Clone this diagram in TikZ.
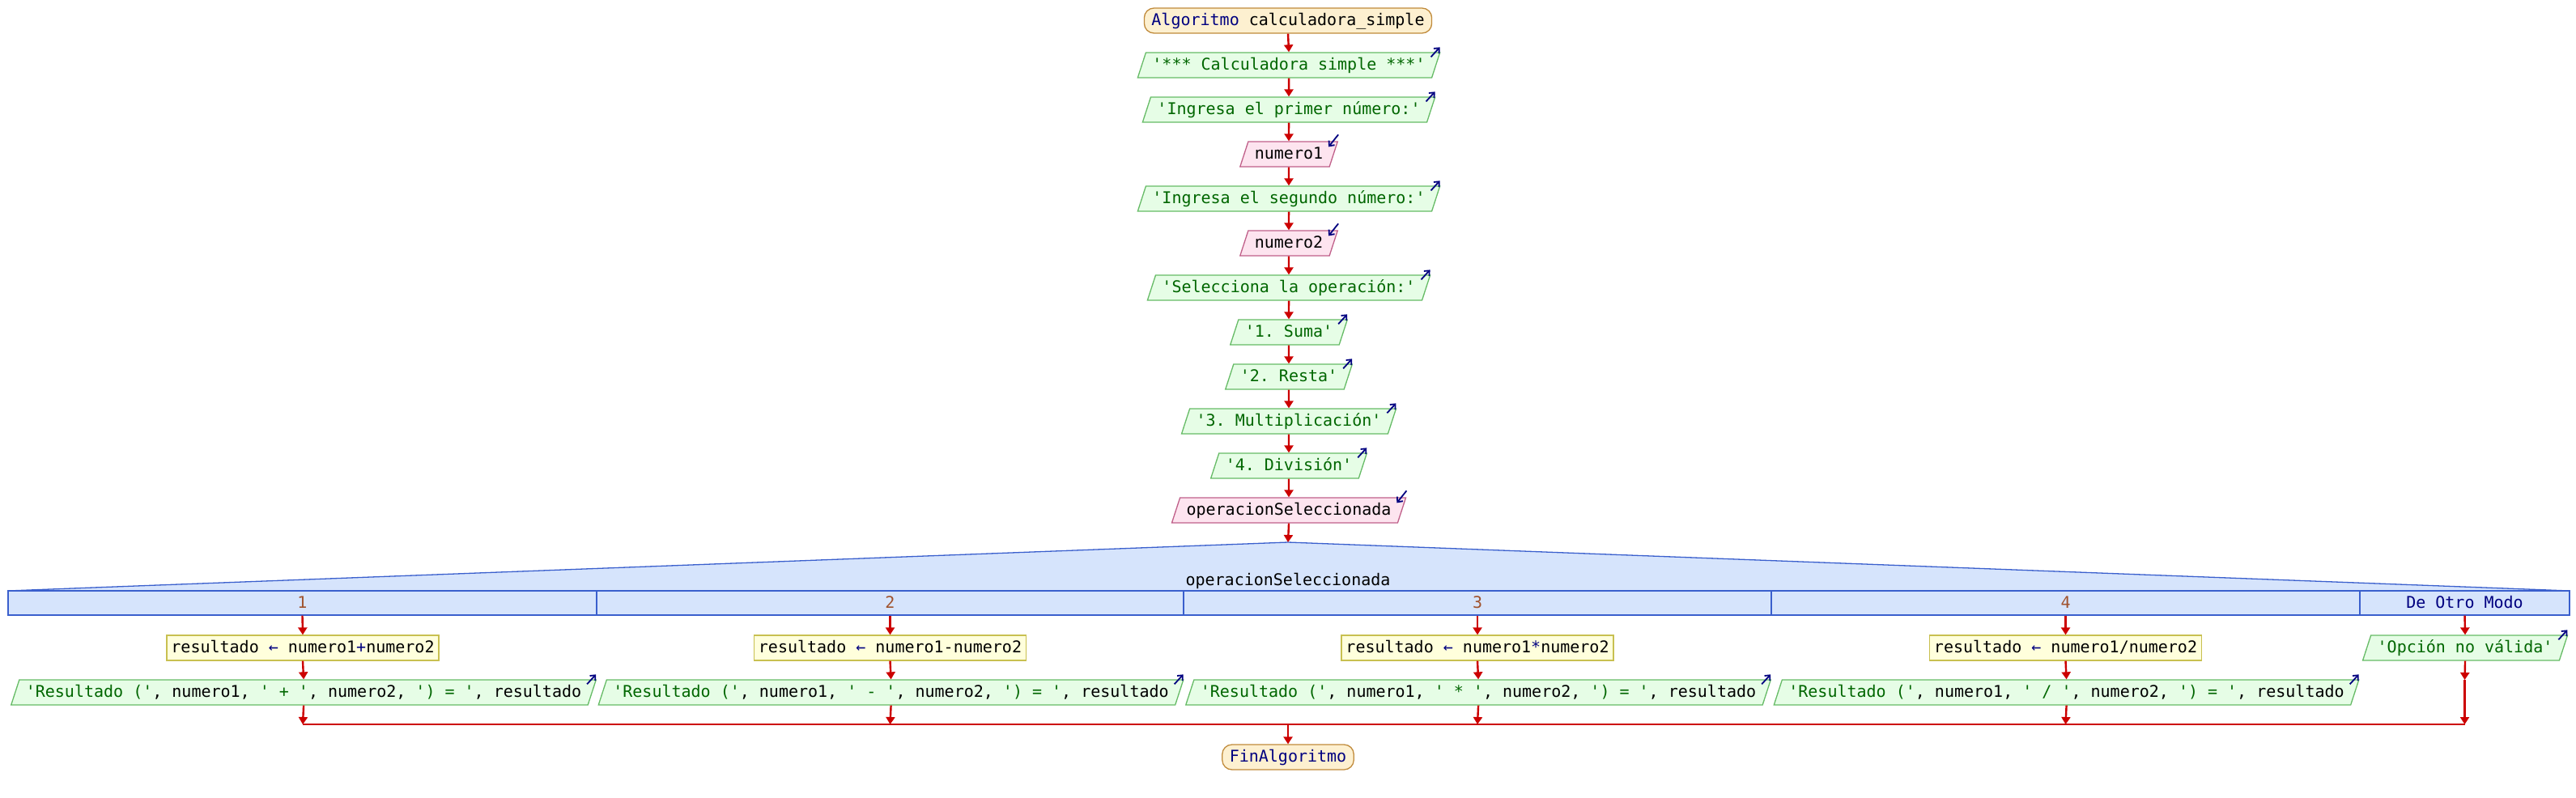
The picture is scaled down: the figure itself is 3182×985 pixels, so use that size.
\documentclass[tikz,border=0pt]{standalone}
\usepackage{fontspec}
\setmonofont{DejaVu Sans Mono}
\usetikzlibrary{shapes.geometric,arrows.meta,calc}
\definecolor{kwnavy}{HTML}{000080}
\definecolor{dgreen}{HTML}{006600}
\definecolor{outfill}{HTML}{E6FDE6}
\definecolor{outdraw}{HTML}{66BB66}
\definecolor{infill}{HTML}{FDE4EF}
\definecolor{indraw}{HTML}{C0608A}
\definecolor{termfill}{HTML}{FDF0D0}
\definecolor{termdraw}{HTML}{C08A3A}
\definecolor{asgfill}{HTML}{FFFFDC}
\definecolor{asgdraw}{HTML}{C8C050}
\definecolor{segfill}{HTML}{D6E4FC}
\definecolor{segdraw}{HTML}{3A5FCD}
\definecolor{lblbrown}{HTML}{A0522D}
\definecolor{flowred}{HTML}{CC0000}
\newcommand\outmk[1]{\draw[markarrow] ($(#1.top right corner)+(-12,6)$) -- ($(#1.top right corner)+(-1,-6)$);}
\newcommand\inmk[1]{\draw[markarrow] ($(#1.top right corner)+(0,-8)$) -- ($(#1.top right corner)+(-12,7)$);}
\newcommand\str[1]{\textcolor{dgreen}{#1}}
\begin{document}
\begin{tikzpicture}[x=1pt,y=-1pt,
  font=\ttfamily\fontsize{20}{24}\selectfont,
  base/.style={text height=16pt,text depth=4pt,inner ysep=5.5pt,line width=1.3pt},
  term/.style={base,rectangle,rounded corners=12pt,inner xsep=9pt,draw=termdraw,fill=termfill},
  outp/.style={base,trapezium,trapezium left angle=72,trapezium right angle=108,inner xsep=8pt,draw=outdraw,fill=outfill,text=dgreen},
  inp/.style={outp,draw=indraw,fill=infill,text=black},
  asg/.style={base,rectangle,inner xsep=5.5pt,draw=asgdraw,fill=asgfill},
  cell/.style={base,rectangle,inner ysep=5pt,draw=segdraw,fill=segfill,text=lblbrown},
  flow/.style={draw=flowred,line width=2.4pt,-{Triangle[length=9pt,width=11pt]}},
  flowline/.style={draw=flowred,line width=2.4pt},
  markarrow/.style={draw=kwnavy,line width=1.8pt,-{Straight Barb[length=5pt,width=9pt]}}
]
\useasboundingbox (0,0) rectangle (3182,985);
% main column
\node[term] (start) at (1591,25.5) {\textcolor{kwnavy}{Algoritmo} calculadora\_simple};
\node[outp] (w1) at (1592,80.5) {'*** Calculadora simple ***'};
\node[outp] (w2) at (1592,135.5) {'Ingresa el primer número:'};
\node[inp] (r1) at (1592,190.5) {numero1};
\node[outp] (w3) at (1592,245.5) {'Ingresa el segundo número:'};
\node[inp] (r2) at (1592,300.5) {numero2};
\node[outp] (w4) at (1592,355.5) {'Selecciona la operación:'};
\node[outp] (w5) at (1592,410.5) {'1. Suma'};
\node[outp] (w6) at (1592,465.5) {'2. Resta'};
\node[outp] (w7) at (1592,520.5) {'3. Multiplicación'};
\node[outp] (w8) at (1592,575.5) {'4. División'};
\node[inp] (r3) at (1592,630.5) {operacionSeleccionada};
% segun block
\coordinate (apex) at (1591,670);
\filldraw[fill=segfill,draw=segdraw,line width=1.3pt] (10,730) -- (apex) -- (3174,730) -- cycle;
\node[base,inner sep=0pt,text=black] (segt) at (1591,717) {operacionSeleccionada};
\node[cell,minimum width=727pt,minimum height=30pt] (c1) at (373.5,745) {1};
\node[cell,minimum width=725pt,minimum height=30pt] (c2) at (1099.5,745) {2};
\node[cell,minimum width=726pt,minimum height=30pt] (c3) at (1825,745) {3};
\node[cell,minimum width=727pt,minimum height=30pt] (c4) at (2551.5,745) {4};
\node[cell,minimum width=259pt,minimum height=30pt,text=kwnavy] (c5) at (3044.5,745) {De Otro Modo};
% branches
\node[asg] (a1) at (374,800.5) {resultado \textcolor{kwnavy}{←} numero1\textcolor{kwnavy}{+}numero2};
\node[asg] (a2) at (1099.5,800.5) {resultado \textcolor{kwnavy}{←} numero1-numero2};
\node[asg] (a3) at (1825,800.5) {resultado \textcolor{kwnavy}{←} numero1\textcolor{kwnavy}{*}numero2};
\node[asg] (a4) at (2551.5,800.5) {resultado \textcolor{kwnavy}{←} numero1/numero2};
\node[outp] (o1) at (375,855.5) {\str{'Resultado ('}\textcolor{black}{, numero1, }\str{' + '}\textcolor{black}{, numero2, }\str{') = '}\textcolor{black}{, resultado}};
\node[outp] (o2) at (1100.5,855.5) {\str{'Resultado ('}\textcolor{black}{, numero1, }\str{' - '}\textcolor{black}{, numero2, }\str{') = '}\textcolor{black}{, resultado}};
\node[outp] (o3) at (1826,855.5) {\str{'Resultado ('}\textcolor{black}{, numero1, }\str{' * '}\textcolor{black}{, numero2, }\str{') = '}\textcolor{black}{, resultado}};
\node[outp] (o4) at (2552.5,855.5) {\str{'Resultado ('}\textcolor{black}{, numero1, }\str{' / '}\textcolor{black}{, numero2, }\str{') = '}\textcolor{black}{, resultado}};
\node[outp] (o5) at (3045,800.5) {'Opción no válida'};
\coordinate (e5) at (3044.5,840);
\node[term] (fin) at (1591,935.5) {\textcolor{kwnavy}{FinAlgoritmo}};
% merge coordinates
\coordinate (m1) at (374,895);
\coordinate (m2) at (1099.5,895);
\coordinate (m3) at (1825,895);
\coordinate (m4) at (2551.5,895);
\coordinate (m5) at (3044.5,895);
\coordinate (mc) at (1591,895);
% connectors main column
\draw[flow] (start.south) -- (w1.north);
\draw[flow] (w1.south) -- (w2.north);
\draw[flow] (w2.south) -- (r1.north);
\draw[flow] (r1.south) -- (w3.north);
\draw[flow] (w3.south) -- (r2.north);
\draw[flow] (r2.south) -- (w4.north);
\draw[flow] (w4.south) -- (w5.north);
\draw[flow] (w5.south) -- (w6.north);
\draw[flow] (w6.south) -- (w7.north);
\draw[flow] (w7.south) -- (w8.north);
\draw[flow] (w8.south) -- (r3.north);
\draw[flow] (r3.south) -- (apex);
% branch connectors
\draw[flow] (c1.south) -- (a1.north);
\draw[flow] (c2.south) -- (a2.north);
\draw[flow] (c3.south) -- (a3.north);
\draw[flow] (c4.south) -- (a4.north);
\draw[flow] (c5.south) -- (o5.north);
\draw[flow] (a1.south) -- (o1.north);
\draw[flow] (a2.south) -- (o2.north);
\draw[flow] (a3.south) -- (o3.north);
\draw[flow] (a4.south) -- (o4.north);
\draw[flow] (o5.south) -- (e5);
\draw[flowline] (m1) -- (m5);
\draw[flow] (o1.south) -- (m1);
\draw[flow] (o2.south) -- (m2);
\draw[flow] (o3.south) -- (m3);
\draw[flow] (o4.south) -- (m4);
\draw[flow] (e5) -- (m5);
\draw[flow] (mc) -- (fin.north);
% io markers
\outmk{w1}\outmk{w2}\outmk{w3}\outmk{w4}\outmk{w5}\outmk{w6}\outmk{w7}\outmk{w8}
\inmk{r1}\inmk{r2}\inmk{r3}
\outmk{o1}\outmk{o2}\outmk{o3}\outmk{o4}\outmk{o5}
\end{tikzpicture}
\end{document}
